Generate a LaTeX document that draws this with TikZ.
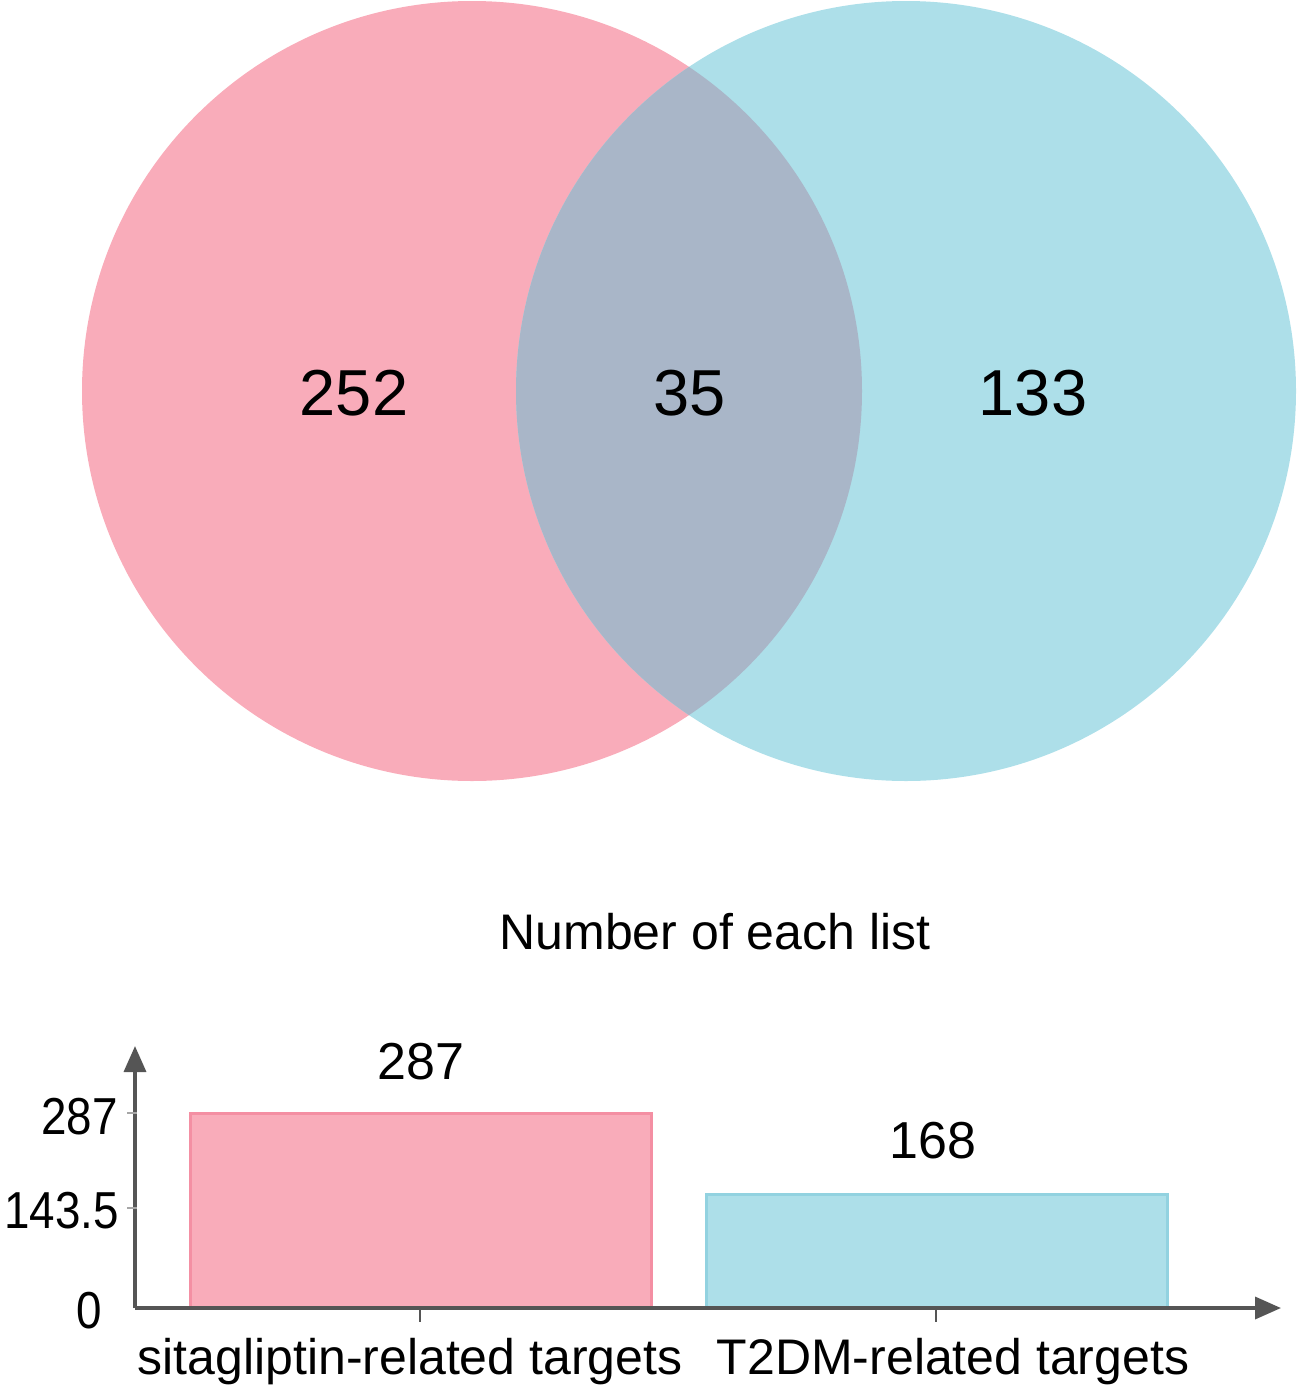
\documentclass[tikz,border=0pt]{standalone}
\usepackage{fontspec}
\usepackage{graphicx}
\setmainfont{Liberation Sans}
\usetikzlibrary{arrows.meta}
\definecolor{pinkfill}{HTML}{F9ACBA}
\definecolor{pinkline}{HTML}{F48FA3}
\definecolor{cyanfill}{HTML}{ADDFE9}
\definecolor{cyanline}{HTML}{92D2E0}
\definecolor{lensfill}{HTML}{A9B6C8}
\definecolor{axisgray}{HTML}{555555}
\newcommand{\ysq}[1]{\scalebox{0.88}[1]{#1}}
\tikzset{
  vennnum/.style={font=\fontsize{65}{78}\selectfont, text=black, inner sep=0pt},
  lbl/.style={font=\fontsize{50}{60}\selectfont, text=black, inner sep=0pt},
  barlbl/.style={font=\fontsize{52}{62}\selectfont, text=black, inner sep=0pt},
  ylbl/.style={font=\fontsize{52}{62}\selectfont, text=black, inner sep=0pt},
  axisline/.style={draw=axisgray, line width=3.5pt, -{Triangle[length=26pt,width=22pt]}},
  tickmark/.style={draw=gray!70, line width=2pt},
}
\begin{document}
\begin{tikzpicture}[x=1pt,y=-1pt]
\useasboundingbox (0,0) rectangle (1299,1392);
% Venn
\fill[pinkfill] (472,391) circle (390);
\fill[cyanfill] (906,391) circle (390);
\begin{scope}
  \clip (472,391) circle (390);
  \fill[lensfill] (906,391) circle (390);
\end{scope}
\node[vennnum] (n252) at (354,393) {252};
\node[vennnum] (n35) at (690,393) {35};
\node[vennnum] (n133) at (1033,393) {133};
% title
\node[lbl] (title) at (715,932) {Number of each list};
% bars
\fill[pinkfill, draw=pinkline, line width=3pt] (190,1308) rectangle (651,1113);
\fill[cyanfill, draw=cyanline, line width=3pt] (706,1308) rectangle (1167,1194);
\node[barlbl] (v287) at (421,1062) {287};
\node[barlbl] (v168) at (933,1141) {168};
% axes
\coordinate (org) at (135,1308);
\coordinate (ytop) at (135,1046);
\coordinate (xend) at (1281,1308);
\draw[axisline] (org) -- (ytop);
\draw[axisline] (org) -- (xend);
% y ticks
\coordinate (t1a) at (127,1113); \coordinate (t1b) at (137,1113);
\coordinate (t2a) at (127,1208); \coordinate (t2b) at (137,1208);
\draw[tickmark] (t1a) -- (t1b);
\draw[tickmark] (t2a) -- (t2b);
\node[ylbl, anchor=east] (y287) at (118,1117) {\ysq{287}};
\node[ylbl, anchor=east] (y143) at (119,1211) {\ysq{143.5}};
\node[ylbl] (y0) at (89,1311) {\ysq{0}};
% x ticks
\coordinate (x1a) at (420,1308); \coordinate (x1b) at (420,1322);
\coordinate (x2a) at (936,1308); \coordinate (x2b) at (936,1322);
\draw[draw=axisgray, line width=1.5pt] (x1a) -- (x1b);
\draw[draw=axisgray, line width=1.5pt] (x2a) -- (x2b);
\node[lbl] (xl1) at (410,1362) {sitagliptin-related targets};
\node[lbl] (xl2) at (953,1362) {T2DM-related targets};
\end{tikzpicture}
\end{document}
